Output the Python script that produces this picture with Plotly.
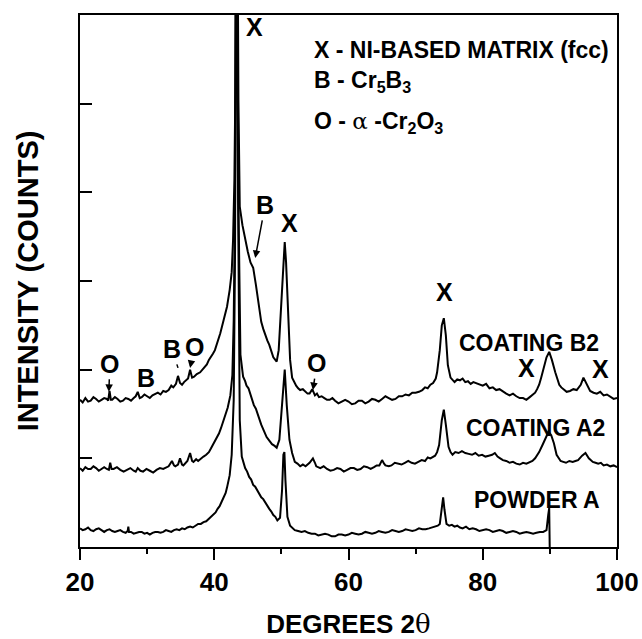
import plotly.graph_objects as go

# ---------------- data: (degrees 2-theta, counts) ----------------
b2_points = [
    (20.0, 166), (20.4, 163), (20.8, 168), (21.2, 164), (21.6, 165), (22.0, 169), (22.4, 167),
    (22.8, 164), (23.2, 166), (23.6, 168), (24.0, 167), (24.2, 165), (24.4, 176), (24.6, 166),
    (24.8, 166), (25.2, 169), (25.6, 167), (26.0, 164), (26.4, 165), (26.8, 168), (27.2, 167),
    (27.6, 165), (28.0, 168), (28.3, 170), (28.6, 175), (28.9, 168), (29.2, 169), (29.6, 172),
    (30.0, 170), (30.4, 168), (30.8, 171), (31.2, 173), (31.6, 174), (32.0, 172), (32.4, 176),
    (32.8, 175), (33.2, 177), (33.6, 182), (33.9, 180), (34.3, 184), (34.6, 193), (34.9, 185),
    (35.2, 183), (35.5, 186), (35.8, 188), (36.1, 190), (36.4, 200), (36.7, 191), (37.0, 192),
    (37.4, 195), (37.9, 197), (38.2, 200), (38.6, 204), (38.9, 206), (39.2, 211), (39.5, 214),
    (39.8, 218), (40.1, 222), (40.4, 229), (40.9, 241), (41.4, 256), (41.9, 271), (42.3, 290),
    (42.6, 310), (42.8, 346), (43.0, 414), (43.15, 520), (43.35, 900), (43.6, 504), (43.8, 384),
    (44.2, 363), (44.6, 346), (45.0, 333), (45.4, 321), (45.8, 315), (46.2, 296), (46.6, 273),
    (47.0, 254), (47.3, 246), (47.6, 239), (47.9, 233), (48.2, 228), (48.5, 220), (48.8, 214),
    (49.1, 211), (49.3, 209), (49.6, 222), (50.0, 279), (50.3, 329), (50.5, 344), (50.7, 321),
    (51.0, 256), (51.3, 211), (51.6, 191), (51.9, 186), (52.2, 182), (52.5, 179), (52.8, 177),
    (53.2, 178), (53.6, 175), (53.9, 173), (54.2, 173), (54.6, 178), (55.0, 171), (55.3, 173),
    (55.6, 169), (56.0, 170), (56.4, 168), (56.8, 166), (57.2, 166), (57.6, 168), (58.0, 165),
    (58.5, 162), (59.0, 164), (59.5, 166), (60.0, 164), (60.5, 161), (61.0, 162), (61.5, 165),
    (62.0, 165), (62.5, 162), (63.0, 164), (63.5, 167), (64.0, 166), (64.5, 164), (65.0, 167),
    (65.5, 170), (66.0, 168), (66.5, 166), (67.0, 167), (67.5, 170), (68.0, 170), (68.5, 172),
    (69.0, 171), (69.5, 174), (70.0, 174), (70.5, 175), (71.0, 177), (71.4, 180), (71.8, 179),
    (72.2, 183), (72.6, 185), (73.0, 190), (73.2, 197), (73.6, 222), (73.9, 250), (74.2, 258),
    (74.5, 239), (74.8, 205), (75.2, 191), (75.5, 188), (75.8, 186), (76.2, 189), (76.6, 188),
    (77.0, 190), (77.4, 186), (77.8, 187), (78.2, 184), (78.6, 186), (79.0, 185), (79.5, 183),
    (80.0, 182), (80.5, 184), (81.0, 179), (81.5, 180), (82.0, 177), (82.5, 178), (83.0, 175),
    (83.5, 173), (84.0, 171), (84.5, 173), (85.0, 170), (85.5, 168), (86.0, 168), (86.5, 166),
    (87.0, 169), (87.4, 171), (87.8, 174), (88.1, 178), (88.4, 183), (88.7, 191), (89.0, 200),
    (89.5, 214), (89.9, 220), (90.3, 211), (90.8, 197), (91.1, 189), (91.4, 183), (91.7, 180),
    (92.0, 178), (92.5, 175), (93.0, 176), (93.5, 178), (94.0, 177), (94.3, 180), (94.6, 183),
    (95.0, 191), (95.3, 187), (95.5, 183), (95.8, 179), (96.0, 176), (96.5, 174), (97.0, 173),
    (97.5, 175), (98.0, 171), (98.5, 172), (99.0, 169), (99.5, 167), (100.0, 168),
]

a2_points = [
    (20.0, 89), (20.4, 86), (20.8, 90), (21.2, 88), (21.6, 88), (22.0, 91), (22.4, 89),
    (22.8, 86), (23.2, 88), (23.6, 90), (24.0, 88), (24.3, 87), (24.5, 95), (24.7, 88),
    (25.0, 88), (25.5, 90), (26.0, 87), (26.5, 85), (27.0, 87), (27.5, 89), (28.0, 86),
    (28.3, 85), (28.6, 89), (29.0, 86), (29.4, 85), (29.9, 88), (30.4, 86), (30.9, 84),
    (31.4, 87), (31.9, 89), (32.4, 88), (32.8, 90), (33.2, 91), (33.7, 97), (34.0, 92),
    (34.2, 91), (34.6, 93), (34.9, 100), (35.2, 93), (35.4, 92), (35.7, 95), (36.0, 97),
    (36.4, 106), (36.7, 97), (36.9, 96), (37.3, 99), (37.6, 97), (38.0, 100), (38.4, 102),
    (38.8, 104), (39.2, 107), (39.5, 111), (39.8, 115), (40.1, 119), (40.4, 123), (40.7, 128),
    (41.0, 134), (41.5, 146), (42.0, 157), (42.4, 171), (42.7, 194), (42.9, 256), (43.1, 391),
    (43.3, 850), (43.6, 391), (43.9, 217), (44.3, 192), (44.6, 187), (44.8, 182), (45.1, 179),
    (45.3, 174), (45.6, 168), (45.9, 160), (46.2, 156), (46.4, 151), (46.7, 145), (47.0, 138),
    (47.4, 131), (47.8, 124), (48.2, 120), (48.6, 116), (49.0, 114), (49.3, 112), (49.7, 121),
    (50.1, 166), (50.5, 200), (50.8, 160), (51.2, 121), (51.6, 106), (52.0, 96), (52.4, 94),
    (52.8, 91), (53.2, 93), (53.6, 91), (54.2, 95), (54.7, 100), (55.0, 95), (55.2, 91),
    (55.8, 89), (56.3, 91), (56.8, 88), (57.3, 86), (57.8, 87), (58.3, 89), (58.8, 88),
    (59.3, 85), (59.8, 87), (60.3, 89), (60.8, 89), (61.3, 87), (61.8, 88), (62.3, 91),
    (62.8, 90), (63.3, 88), (63.8, 90), (64.2, 92), (64.6, 92), (65.0, 98), (65.3, 94),
    (65.5, 92), (66.0, 91), (66.4, 92), (66.9, 95), (67.4, 94), (67.9, 93), (68.4, 95),
    (68.9, 97), (69.4, 95), (69.9, 94), (70.4, 96), (70.9, 98), (71.4, 97), (71.8, 101),
    (72.2, 100), (72.6, 102), (72.9, 103), (73.2, 107), (73.5, 115), (73.9, 143), (74.2, 155),
    (74.5, 138), (74.9, 113), (75.2, 107), (75.5, 104), (75.9, 107), (76.4, 106), (76.9, 108),
    (77.4, 106), (77.9, 105), (78.4, 104), (78.9, 106), (79.4, 103), (79.9, 104), (80.4, 102),
    (80.9, 103), (81.4, 104), (81.8, 106), (82.2, 102), (82.6, 100), (83.0, 98), (83.5, 97),
    (84.0, 95), (84.5, 96), (85.0, 94), (85.5, 93), (86.0, 95), (86.5, 94), (87.0, 96),
    (87.4, 97), (87.8, 100), (88.4, 107), (88.9, 115), (89.4, 124), (89.8, 130), (90.2, 126),
    (90.6, 117), (91.0, 104), (91.3, 100), (91.6, 97), (92.0, 96), (92.4, 95), (92.9, 97),
    (93.4, 96), (93.8, 97), (94.2, 98), (94.8, 103), (95.3, 106), (95.8, 100), (96.1, 98),
    (96.4, 96), (96.8, 95), (97.2, 94), (97.6, 95), (98.0, 92), (98.5, 93), (99.0, 91),
    (99.5, 92), (100.0, 90),
]

powder_points = [
    (20.0, 21), (20.4, 19), (20.8, 20), (21.2, 22), (21.6, 19), (22.0, 18), (22.4, 20),
    (22.8, 21), (23.2, 19), (23.6, 17), (24.0, 19), (24.4, 20), (24.8, 18), (25.2, 17),
    (25.6, 18), (26.0, 19), (26.4, 17), (26.8, 16), (27.1, 18), (27.2, 23), (27.3, 17),
    (27.6, 17), (28.0, 15), (28.4, 16), (28.8, 17), (29.2, 17), (29.6, 15), (30.0, 16),
    (30.4, 14), (30.8, 16), (31.2, 17), (31.6, 17), (32.0, 16), (32.4, 17), (32.8, 19),
    (33.2, 18), (33.6, 17), (34.0, 19), (34.4, 20), (34.8, 19), (35.2, 21), (35.6, 20),
    (36.0, 22), (36.4, 23), (36.8, 22), (37.2, 24), (37.6, 26), (38.0, 26), (38.4, 28),
    (38.8, 29), (39.2, 32), (39.6, 35), (39.9, 37), (40.2, 39), (40.5, 43), (40.8, 46),
    (41.1, 51), (41.4, 56), (41.7, 61), (41.9, 67), (42.1, 73), (42.3, 81), (42.6, 104),
    (42.9, 166), (43.1, 335), (43.3, 800), (43.55, 391), (43.8, 143), (44.1, 102), (44.4, 95),
    (44.6, 89), (44.9, 85), (45.2, 79), (45.5, 76), (45.8, 70), (46.1, 68), (46.4, 64),
    (46.7, 60), (47.0, 56), (47.3, 54), (47.6, 50), (47.9, 47), (48.2, 43), (48.5, 40),
    (48.8, 36), (49.1, 34), (49.4, 30), (49.8, 33), (50.1, 64), (50.3, 104), (50.45, 107),
    (50.6, 76), (50.9, 34), (51.3, 24), (51.6, 22), (52.0, 19), (52.5, 18), (53.0, 17),
    (53.5, 18), (54.0, 16), (54.5, 15), (55.0, 15), (55.5, 13), (56.0, 14), (56.5, 15),
    (57.0, 14), (57.5, 12), (58.0, 12), (58.5, 14), (59.0, 14), (59.5, 13), (60.0, 14),
    (60.5, 16), (61.0, 15), (61.5, 14), (62.0, 15), (62.5, 17), (63.0, 16), (63.5, 15),
    (64.0, 16), (64.5, 18), (65.0, 17), (65.5, 16), (66.0, 17), (66.5, 19), (67.0, 18),
    (67.5, 17), (68.0, 18), (68.5, 20), (69.0, 19), (69.5, 18), (70.0, 19), (70.5, 21),
    (71.0, 20), (71.5, 20), (72.0, 21), (72.5, 22), (73.0, 23), (73.3, 24), (73.6, 26),
    (73.9, 47), (74.1, 56), (74.3, 42), (74.6, 26), (75.0, 24), (75.4, 25), (75.8, 23),
    (76.2, 24), (76.6, 22), (77.0, 21), (77.5, 23), (78.0, 20), (78.5, 21), (79.0, 20),
    (79.5, 18), (80.0, 19), (80.5, 20), (81.0, 19), (81.5, 17), (82.0, 18), (82.5, 19),
    (83.0, 18), (83.5, 16), (84.0, 17), (84.5, 18), (85.0, 17), (85.5, 15), (86.0, 16),
    (86.5, 17), (87.0, 16), (87.5, 15), (88.0, 16), (88.5, 17), (89.0, 17), (89.5, 19),
    (89.75, 36), (89.9, 44), (90.0, -15),
]

x_ticks = [20, 40, 60, 80, 100]
x_tick_labels = ["20", "40", "60", "80", "100"]
x_minor_ticks = [30, 50, 70, 90]
y_ticks = [100, 200, 300, 400, 500]

FONT = "Liberation Sans, Arial, sans-serif"

fig = go.Figure()
for pts, nm in [(b2_points, "COATING B2"), (a2_points, "COATING A2"), (powder_points, "POWDER A")]:
    xs = [p[0] for p in pts]
    ys = [p[1] for p in pts]
    fig.add_trace(go.Scatter(x=xs, y=ys, mode="lines", name=nm,
                             line=dict(color="black", width=2), showlegend=False))


def lab(x, y, t, size=25, **kw):
    d = dict(x=x, y=y, xref="x", yref="y", text=t, showarrow=False,
             font=dict(family=FONT, size=size, color="black", weight="bold"))
    d.update(kw)
    fig.add_annotation(**d)


def arr(x, y, t, ax, ay, head=2, size=25):
    fig.add_annotation(x=x, y=y, xref="x", yref="y", text=t, showarrow=True,
                       ax=ax, ay=ay, arrowhead=head, arrowsize=1, arrowwidth=1.5,
                       arrowcolor="black", standoff=0,
                       font=dict(family=FONT, size=size, color="black", weight="bold"))


# peak letters
lab(46.07, 587, "X")
lab(51.14, 365, "X")
lab(74.23, 288, "X")
lab(86.45, 202, "X")
lab(97.6, 201, "X")
lab(29.8, 191, "B")
arr(24.3, 175, "O", 1, -28)
arr(34.6, 202, "B", -6, -19, head=0)
arr(36.4, 202, "O", 4, -21)
arr(54.7, 177, "O", 4, -27)
arr(46.1, 326, "B", 10, -53)

# sample names
lab(86.9, 230, "COATING B2", size=23)
lab(87.8, 134, "COATING A2", size=23)
lab(88.1, 53, "POWDER A", size=23)

# key
alpha = "<span style=\"font-family:DejaVu Serif;font-weight:normal\">α</span>"
lab(54.55, 561, "X - NI-BASED MATRIX (fcc)", size=23, xanchor="left")
lab(54.55, 525, "B - Cr<sub>5</sub>B<sub>3</sub>", size=23, xanchor="left")
lab(54.55, 479, "O - " + alpha + " -Cr<sub>2</sub>O<sub>3</sub>", size=23, xanchor="left")

theta = "<span style=\"font-family:DejaVu Serif;font-weight:normal\">θ</span>"

fig.update_layout(
    width=642, height=639,
    margin=dict(l=80, r=25, t=15, b=92),
    paper_bgcolor="white", plot_bgcolor="white",
    font=dict(family=FONT, color="black"),
    xaxis=dict(range=[20, 100], tickvals=x_ticks, ticktext=x_tick_labels, automargin=False,
               ticks="outside", ticklen=11, tickwidth=1.5, tickcolor="black",
               minor=dict(tickvals=x_minor_ticks, ticks="outside", ticklen=5,
                          tickwidth=1.5, tickcolor="black"),
               showline=True, linewidth=1.5, linecolor="black", mirror=True,
               showgrid=False, zeroline=False,
               tickfont=dict(family=FONT, size=26, color="black", weight="bold"),
               title=dict(text="DEGREES 2" + theta, standoff=22,
                          font=dict(family=FONT, size=26, color="black", weight="bold"))),
    yaxis=dict(range=[0, 600], tickvals=y_ticks, showticklabels=False, automargin=False,
               ticks="inside", ticklen=12, tickwidth=1.5, tickcolor="black",
               showline=True, linewidth=1.5, linecolor="black", mirror=True,
               showgrid=False, zeroline=False,
               title=dict(text="INTENSITY (COUNTS)", standoff=31,
                          font=dict(family=FONT, size=29, color="black", weight="bold"))),
)

fig.write_html("out.html", config={"displayModeBar": False},
               post_script="document.body.style.margin='0';document.body.style.overflow='hidden';")
